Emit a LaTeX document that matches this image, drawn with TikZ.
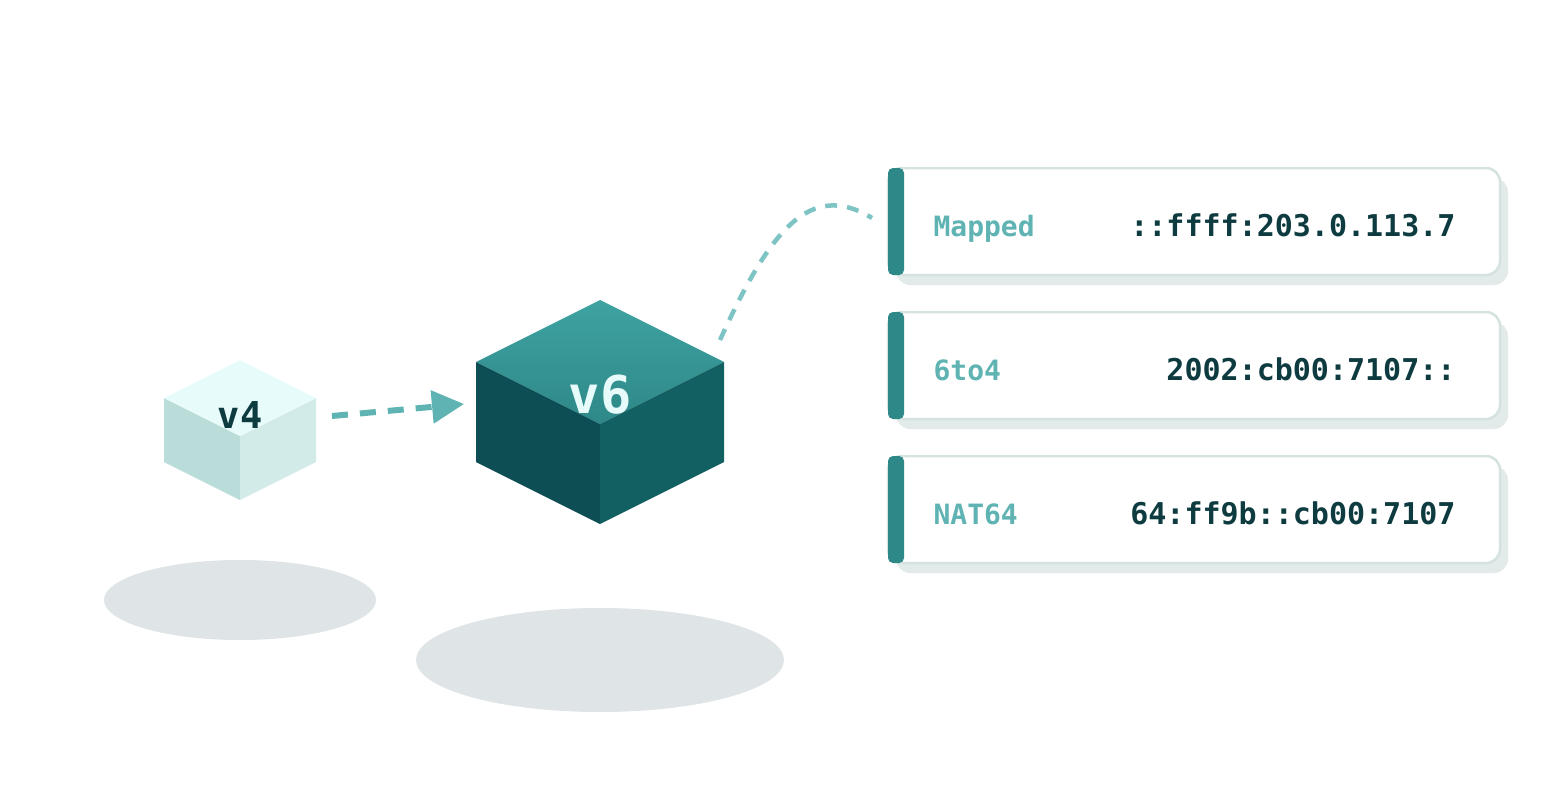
\documentclass[tikz,border=0pt]{standalone}
\usepackage{fontspec}
\setmonofont{DejaVu Sans Mono}
\usetikzlibrary{arrows.meta}
\definecolor{tealA}{HTML}{2E8888}
\definecolor{tealL}{HTML}{5FB3B3}
\definecolor{tealC}{HTML}{7FC4C4}
\definecolor{dark}{HTML}{0D3B40}
\definecolor{bord}{HTML}{D4E2E0}
\definecolor{shad}{HTML}{E3EAEA}
\definecolor{gnd}{HTML}{DFE4E6}
\begin{document}
\begin{tikzpicture}[x=1pt,y=-1pt,
  lab/.style={font=\ttfamily\bfseries\fontsize{28}{28}\selectfont,text=tealL,anchor=base west},
  val/.style={font=\ttfamily\bfseries\fontsize{30}{30}\selectfont,text=dark,anchor=base east},
  card/.style={fill=white,draw=bord,line width=2.5pt,rounded corners=14pt},
  cshadow/.style={fill=shad,rounded corners=14pt},
  bar/.style={fill=tealA,rounded corners=5pt}]
\useasboundingbox (0,0) rectangle (1560,800);
% ground shadows
\fill[gnd] (240,600) ellipse [x radius=136,y radius=40];
\fill[gnd] (600,660) ellipse [x radius=184,y radius=52];
% v4 cube
\fill[color={rgb,255:red,187;green,221;blue,218}] (164,398) -- (240,436) -- (240,500) -- (164,462) -- cycle;
\fill[color={rgb,255:red,211;green,235;blue,232}] (316,398) -- (240,436) -- (240,500) -- (316,462) -- cycle;
\fill[color={rgb,255:red,232;green,251;blue,251}] (240,360) -- (316,398) -- (240,436) -- (164,398) -- cycle;
\node[font=\ttfamily\bfseries\fontsize{37}{37}\selectfont,text=dark] (v4) at (240,415) {v4};
% v6 cube
\shade[top color={rgb,255:red,62;green,163;blue,161},bottom color={rgb,255:red,46;green,136;blue,136}] (600,300) -- (724,362) -- (600,424) -- (476,362) -- cycle;
\fill[color={rgb,255:red,13;green,77;blue,84}] (476,362) -- (600,424) -- (600,524) -- (476,462) -- cycle;
\fill[color={rgb,255:red,19;green,96;blue,99}] (724,362) -- (600,424) -- (600,524) -- (724,462) -- cycle;
\node[font=\ttfamily\bfseries\fontsize{52}{52}\selectfont,text={rgb,255:red,232;green,251;blue,251}] (v6) at (600,395) {v6};
% connectors
\coordinate (a1) at (332,416);
\coordinate (a2) at (464,404);
\draw[tealL,line width=6pt,dash pattern=on 16pt off 12pt,-{Triangle[length=32pt,width=32pt]}] (a1) -- (a2);
\coordinate (c1) at (720,340);
\coordinate (c2) at (872,218);
\draw[tealC,line width=4.5pt,dash pattern=on 12pt off 10pt] (c1) .. controls (770,230) and (810,180) .. (c2);
% cards
\foreach \y/\l/\v/\n in {168/Mapped/::ffff:203.0.113.7/m,312/6to4/2002:cb00:7107::/s,456/NAT64/64:ff9b::cb00:7107/n}{
  \fill[cshadow] (896,\y+10) rectangle (1508,\y+117);
  \draw[card] (888,\y) rectangle (1500,\y+107);
  \fill[bar] (888,\y) rectangle (904,\y+107);
  \node[lab] (l\n) at (930,\y+68) {\l};
  \node[val] (v\n) at (1459,\y+68) {\v};
}
\end{tikzpicture}
\end{document}
